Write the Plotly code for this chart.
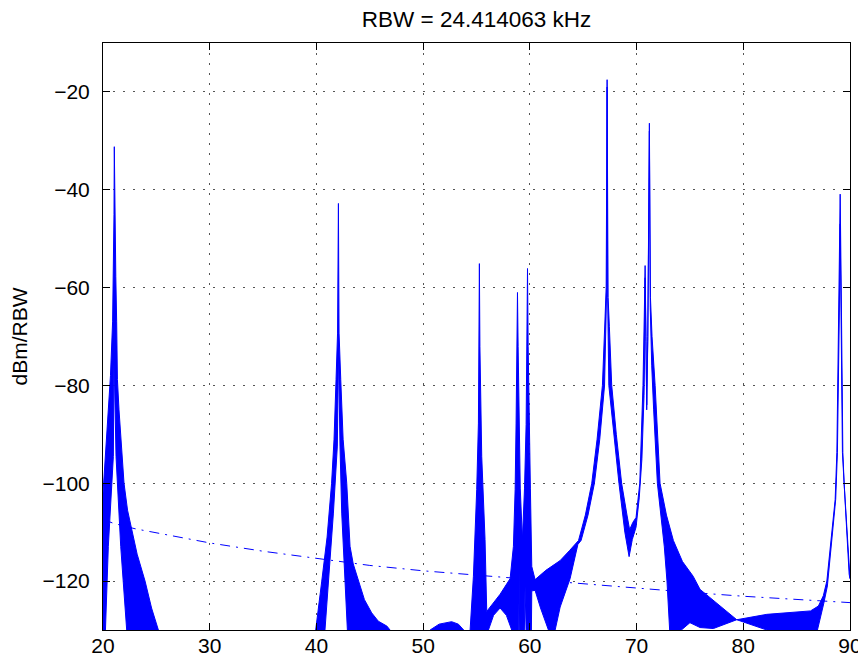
import plotly.graph_objects as go

# ---- data ----
# upper envelope of the spectrum trace (frequency, dBm/RBW)
upper_x = [20.00, 20.35, 20.70, 20.90, 20.97, 21.03, 21.06, 21.10, 21.20, 21.28, 21.35, 21.50, 21.66, 21.80, 21.97,
           22.30, 22.69, 23.20, 23.94, 24.55, 25.19, 25.30,
           39.80, 39.93, 40.50, 41.00, 41.42, 41.65, 41.84, 41.98, 42.06, 42.12, 42.28, 42.50, 42.84, 43.00, 43.15,
           43.45, 43.93, 44.50, 45.18, 45.80, 46.60, 46.90, 47.00,
           50.50, 50.65, 51.50, 52.67, 53.30, 53.80, 53.90, 54.30, 54.40, 54.71, 55.02, 55.18, 55.22, 55.27, 55.32, 55.40,
           55.49, 55.80, 55.90, 55.96, 57.21, 58.15, 58.46, 58.62, 58.71, 58.78, 58.84, 58.90, 58.98, 59.10, 59.30, 59.50,
           59.65, 59.72, 59.78, 59.84, 59.93, 60.05, 60.18, 60.49, 61.50, 62.84, 63.70, 64.56, 65.20, 65.80, 66.30, 66.80,
           67.05, 67.15, 67.24, 67.33, 67.45, 67.67, 68.10, 68.60, 69.10, 69.35, 69.65, 69.95, 70.30, 70.60, 70.72, 70.80,
           70.88, 70.95, 71.05, 71.20, 71.30, 71.45, 71.74, 72.20, 72.80, 73.45, 74.30, 75.30, 75.95, 79.39, 82.20, 86.30,
           87.04, 87.50, 87.83, 88.20, 88.61, 88.77, 88.95, 89.08, 89.20, 89.33, 89.45, 89.55, 89.95, 90.00]
upper_y = [-102, -90, -78, -67, -57.7, -45, -31.2, -45, -57.7, -67, -78.8, -85, -90.4, -95.5, -100,
           -105.5, -109.5, -114.5, -120, -125.5, -130, -135,
           -135, -130, -120, -111, -100, -91, -78.8, -69.3, -42.8, -69.3, -78.8, -91, -100, -107.5, -112.9,
           -116.5, -120, -123.8, -126.5, -128.2, -129.2, -130, -135,
           -135, -130, -128.8, -128.3, -128.8, -130, -135, -135, -130, -119, -101.3, -87.7, -72, -55.1, -72, -88,
           -94.5, -111.5, -125.8, -126.2, -122.7, -119.5, -112.9, -101.3, -87.7, -72, -61, -72, -88, -101, -111.5, -101,
           -88, -72, -56.1, -72, -88, -101, -117, -119.7, -117.8, -115.8, -113.8, -111.7, -106.5, -100, -91, -80,
           -66, -60, -17.5, -62, -68, -80, -90, -100, -106.5, -109.5, -108.0, -107.0, -100, -80, -66, -55.5,
           -70, -84, -70, -26.4, -62, -70, -80, -100, -106.5, -111.7, -116, -119, -121.7, -127.9, -126.8, -126.1,
           -125.1, -123, -120, -112, -103.3, -93.7, -65, -40.9, -65, -93.7, -100, -103.3, -117.6, -118]

# lower envelope of the spectrum trace
lower_x = [20.00, 20.15, 20.19, 20.50, 20.97, 21.04, 21.06, 21.09, 21.22, 21.66, 22.22, 22.30,
           40.70, 40.80, 41.12, 41.59, 41.96, 42.03, 42.06, 42.10, 42.21, 42.37, 42.68, 42.90, 43.00,
           56.05, 56.12, 56.60, 57.21, 57.80, 58.30, 58.35, 58.95, 59.00, 59.06, 59.45, 59.55, 59.70,
           60.12, 60.18, 60.49, 61.00, 61.74, 62.00, 62.37, 62.84, 63.77, 64.50, 64.80, 65.45, 66.05, 66.55,
           67.00, 67.15, 67.20, 67.24, 67.29, 67.40, 67.85, 68.35, 68.90, 69.30, 69.60, 69.95, 70.25, 70.50,
           70.70, 70.78, 70.80, 70.88, 70.95, 71.05, 71.20, 71.28, 71.42, 71.60, 71.95, 72.30, 72.60, 72.85,
           73.10, 73.20, 73.90, 74.20, 75.00, 75.95, 77.20, 79.39, 82.20, 82.30, 86.90, 86.95, 87.55, 87.88,
           88.66, 88.82, 89.00, 89.08, 89.16, 89.29, 89.41, 89.51, 89.92, 90.00]
lower_y = [-135, -135, -130, -112.9, -94.5, -80, -66, -80, -94.5, -112.9, -130, -135,
           -135, -130, -119.7, -106.1, -92.4, -80, -72, -80, -92.4, -106.1, -119.7, -130, -135,
           -135, -130, -127, -125.5, -127, -130, -135, -135, -118, -135, -135, -121, -135,
           -135, -122, -121.9, -125.5, -130, -132, -130, -125.3, -119.5, -112.5, -111.7, -106.5, -100, -91,
           -80, -66, -60, -19, -62, -80, -90, -100, -110, -115, -111.5, -109, -103, -95,
           -82, -70, -58, -71, -85, -71, -28, -64, -76, -85, -100, -107, -113, -120,
           -130, -135, -135, -130, -128.5, -129.5, -129.7, -127.9, -130, -135, -135, -130, -124.5, -121,
           -103.3, -93.7, -65, -47, -65, -93.7, -100, -103.3, -118.6, -119.5]

# dash-dot reference (noise floor) line
floor_x = [20, 21, 23, 26, 30, 35, 40, 45, 50, 55, 60, 65, 70, 75, 80, 85, 90]
floor_y = [-107.4, -108.2, -109.3, -110.5, -112.2, -113.9, -115.4, -116.8, -117.9, -118.8,
           -119.7, -120.6, -121.4, -122.3, -123.1, -123.8, -124.4]

x_ticks = [20, 30, 40, 50, 60, 70, 80, 90]
y_ticks = [-120, -100, -80, -60, -40, -20]
title_text = "RBW = 24.414063 kHz"
y_label = "dBm/RBW"

BLUE = "#0000FF"
FONT = "Liberation Sans, Arial, Helvetica, sans-serif"

# the page body adds an 8 px offset, so the figure is 8 px smaller and margins are shifted
W, H = 858, 661

fig = go.Figure()

poly_x = upper_x + lower_x[::-1]
poly_y = upper_y + lower_y[::-1]
fig.add_trace(go.Scatter(x=poly_x, y=poly_y, mode="lines", fill="toself",
                         fillcolor=BLUE, line=dict(color=BLUE, width=1),
                         showlegend=False, hoverinfo="skip"))

fig.add_trace(go.Scatter(x=floor_x, y=floor_y, mode="lines",
                         line=dict(color=BLUE, width=1, dash="10px,6px,2px,6px"),
                         showlegend=False))

axis_common = dict(showline=True, linecolor="black", linewidth=1, mirror="ticks",
                   ticks="inside", ticklen=7, tickcolor="black", tickwidth=1,
                   showgrid=True, gridcolor="#555555", gridwidth=1, griddash="2px,8px",
                   zeroline=False, automargin=False,
                   tickfont=dict(family=FONT, size=21, color="black"))

fig.update_xaxes(range=[20, 90], tickvals=x_ticks, ticktext=[str(v) for v in x_ticks],
                 ticklabelstandoff=-3, **axis_common)
fig.update_yaxes(range=[-130, -10], tickvals=y_ticks,
                 ticktext=["\u2212" + str(abs(v)) for v in y_ticks],
                 ticklabelstandoff=8,
                 title=dict(text=y_label, font=dict(family=FONT, size=21, color="black"), standoff=14),
                 **axis_common)

fig.update_layout(
    width=W, height=H,
    margin=dict(l=95, r=16, t=35, b=39),
    paper_bgcolor="white", plot_bgcolor="white",
    title=dict(text=title_text, x=0.5, xref="paper", xanchor="center",
               y=1 - 11 / H, yref="container", yanchor="middle",
               font=dict(family=FONT, size=22.5, color="black")),
)

fig.write_html("out.html")
